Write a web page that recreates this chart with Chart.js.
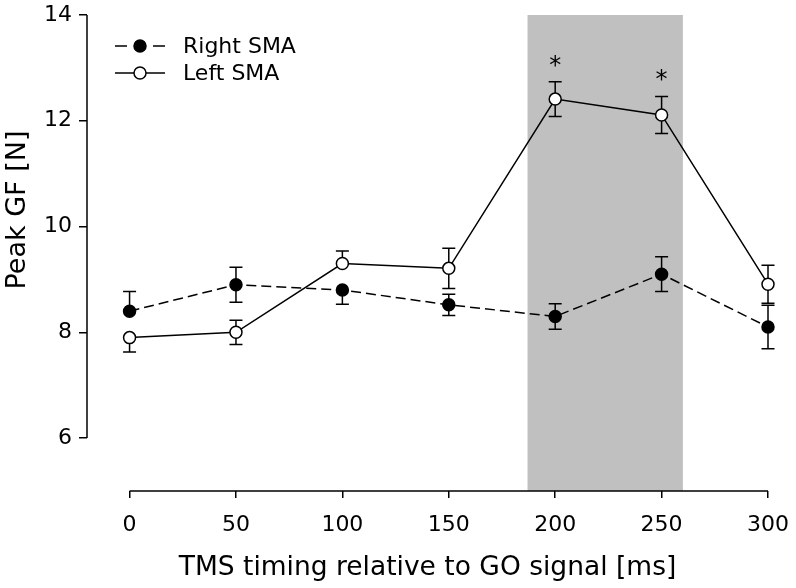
<!DOCTYPE html>
<html>
<head>
<meta charset="utf-8">
<script src="https://cdn.jsdelivr.net/npm/chart.js@4"></script>
<style>
  html, body { margin: 0; padding: 0; background: #fff; }
  #wrap { width: 796px; height: 588px; }
</style>
</head>
<body>
<div id="wrap"><canvas id="grafico" width="796" height="588"></canvas></div>
<script>
// valores
const timings = [0, 50, 100, 150, 200, 250, 300];
const rightSMA = [8.4, 8.9, 8.8, 8.52, 8.3, 9.1, 8.1];
const rightSMAErrUp = [0.37, 0.33, null, 0.2, 0.24, 0.33, 0.41];
const rightSMAErrDown = [null, 0.33, 0.27, 0.2, 0.24, 0.33, 0.41];
const leftSMA = [7.9, 8.0, 9.3, 9.21, 12.41, 12.11, 8.91];
const leftSMAErrUp = [null, 0.23, 0.24, 0.38, 0.33, 0.35, 0.36];
const leftSMAErrDown = [0.27, 0.23, null, 0.38, 0.33, 0.35, 0.36];
const seriesNames = ["Right SMA", "Left SMA"];
const xTicks = [0, 50, 100, 150, 200, 250, 300];
const yTicks = [6, 8, 10, 12, 14];
const significant = [200, 250];
const shadedWindow = [187, 260];

const FONT = "'DejaVu Sans', sans-serif";

function toPoints(xs, ys) {
  return xs.map((x, i) => ({ x: x, y: ys[i] }));
}

const errorsUp = [rightSMAErrUp, leftSMAErrUp];
const errorsDown = [rightSMAErrDown, leftSMAErrDown];

// caixa cinza, barras de erro e eixos
const extras = {
  id: 'extras',
  beforeDatasetsDraw(chart) {
    const ctx = chart.ctx;
    const xs = chart.scales.x, ys = chart.scales.y;
    ctx.save();
    // janela sombreada
    const x0 = xs.getPixelForValue(shadedWindow[0]);
    const x1 = xs.getPixelForValue(shadedWindow[1]);
    const yTop = ys.getPixelForValue(14);
    const yBot = ys.getPixelForValue(ys.min);
    ctx.fillStyle = '#c0c0c0';
    ctx.fillRect(x0, yTop, x1 - x0, yBot - yTop);

    // eixos
    ctx.strokeStyle = '#000';
    ctx.lineWidth = 1.5;
    ctx.beginPath();
    const ax = xs.left;
    ctx.moveTo(ax, ys.getPixelForValue(yTicks[0]));
    ctx.lineTo(ax, ys.getPixelForValue(yTicks[yTicks.length - 1]));
    ctx.moveTo(xs.getPixelForValue(xTicks[0]), yBot);
    ctx.lineTo(xs.getPixelForValue(xTicks[xTicks.length - 1]), yBot);
    ctx.stroke();

    // barras de erro
    chart.data.datasets.forEach((ds, i) => {
      ds.data.forEach((p, j) => {
        const px = xs.getPixelForValue(p.x);
        const py = ys.getPixelForValue(p.y);
        [errorsUp[i][j], errorsDown[i][j] == null ? null : -errorsDown[i][j]].forEach(e => {
          if (e == null) return;
          const ey = ys.getPixelForValue(p.y + e);
          ctx.beginPath();
          ctx.moveTo(px, py); ctx.lineTo(px, ey);
          ctx.moveTo(px - 6.5, ey); ctx.lineTo(px + 6.5, ey);
          ctx.stroke();
        });
      });
    });
    ctx.restore();
  },
  afterDatasetsDraw(chart) {
    const ctx = chart.ctx;
    const xs = chart.scales.x, ys = chart.scales.y;
    ctx.save();
    // asteriscos
    ctx.fillStyle = '#000';
    ctx.font = '24px ' + FONT;
    ctx.textAlign = 'center';
    ctx.textBaseline = 'alphabetic';
    significant.forEach(t => {
      const j = timings.indexOf(t);
      const px = xs.getPixelForValue(t);
      const hi = ys.getPixelForValue(leftSMA[j] + leftSMAErrUp[j]);
      ctx.fillText('*', px, hi - 9);
    });

    // legenda
    const rows = [46, 73];
    ctx.lineWidth = 1.5;
    ctx.strokeStyle = '#000';
    rows.forEach((ry, i) => {
      ctx.beginPath();
      ctx.setLineDash(i === 0 ? [12, 26] : []);
      ctx.moveTo(115, ry); ctx.lineTo(165, ry);
      ctx.stroke();
      ctx.setLineDash([]);
      ctx.beginPath();
      ctx.arc(140, ry, 6, 0, Math.PI * 2);
      ctx.fillStyle = i === 0 ? '#000' : '#fff';
      ctx.fill();
      ctx.stroke();
      ctx.fillStyle = '#000';
      ctx.font = '22px ' + FONT;
      ctx.textAlign = 'left';
      ctx.textBaseline = 'middle';
      ctx.fillText(seriesNames[i], 183, ry + 1);
    });

    // titulo do eixo y
    ctx.translate(18, 210);
    ctx.rotate(-Math.PI / 2);
    ctx.font = '27px ' + FONT;
    ctx.textAlign = 'center';
    ctx.textBaseline = 'middle';
    ctx.fillText('Peak GF [N]', 0, 0);
    ctx.restore();
  }
};

const ctx = document.getElementById('grafico').getContext('2d');
new Chart(ctx, {
  type: 'line',
  data: {
    datasets: [
      {
        label: seriesNames[0],
        data: toPoints(timings, rightSMA),
        borderColor: '#000',
        borderWidth: 1.5,
        borderDash: [10, 5],
        pointRadius: 6,
        pointHoverRadius: 6,
        pointBackgroundColor: '#000',
        pointBorderColor: '#000',
        pointBorderWidth: 1.5,
        tension: 0,
        clip: false
      },
      {
        label: seriesNames[1],
        data: toPoints(timings, leftSMA),
        borderColor: '#000',
        borderWidth: 1.5,
        pointRadius: 6,
        pointHoverRadius: 6,
        pointBackgroundColor: '#fff',
        pointBorderColor: '#000',
        pointBorderWidth: 1.5,
        tension: 0,
        clip: false
      }
    ]
  },
  options: {
    responsive: false,
    animation: false,
    events: [],
    layout: { padding: { left: 0, top: 15, right: 28, bottom: 0 } },
    plugins: {
      legend: { display: false },
      tooltip: { enabled: false }
    },
    scales: {
      x: {
        type: 'linear',
        min: -20,
        max: 300,
        afterBuildTicks: s => { s.ticks = xTicks.map(v => ({ value: v })); },
        afterFit: s => { s.height = 97; s.paddingLeft = 0; s.paddingRight = 0; },
        border: { display: false },
        grid: { drawOnChartArea: false, drawTicks: true, tickLength: 7, color: '#000', lineWidth: 1.5 },
        ticks: { color: '#000', font: { family: FONT, size: 22 }, padding: 14, maxRotation: 0 },
        title: {
          display: true,
          text: 'TMS timing relative to GO signal [ms]',
          color: '#000',
          font: { family: FONT, size: 26.5 },
          padding: { top: 0, bottom: 4 }
        }
      },
      y: {
        min: 5,
        max: 14,
        afterBuildTicks: s => { s.ticks = yTicks.map(v => ({ value: v })); },
        afterFit: s => { s.width = 87; s.paddingTop = 0; s.paddingBottom = 0; },
        border: { display: false },
        grid: { drawOnChartArea: false, drawTicks: true, tickLength: 8, color: '#000', lineWidth: 1.5 },
        ticks: { color: '#000', font: { family: FONT, size: 22 }, padding: 7 }
      }
    }
  },
  plugins: [extras]
});
</script>
</body>
</html>
